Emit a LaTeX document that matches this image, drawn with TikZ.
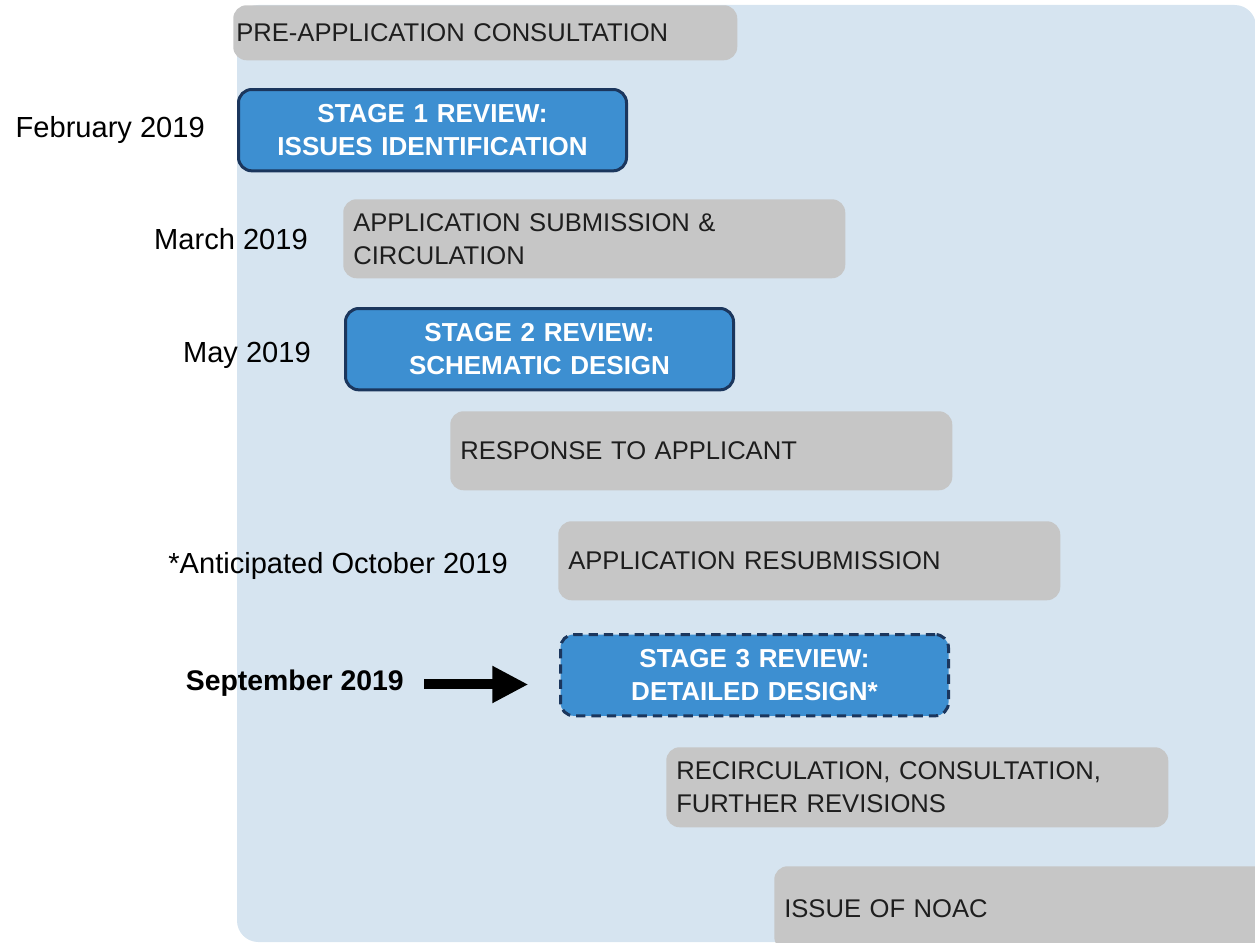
\documentclass[tikz,border=0pt]{standalone}
\usepackage{fontspec}
\setmainfont{Liberation Sans}
\usetikzlibrary{arrows.meta}

\definecolor{panelblue}{HTML}{D6E4F0}
\definecolor{phasegray}{HTML}{C6C6C6}
\definecolor{reviewblue}{HTML}{3D8FD1}
\definecolor{reviewedge}{HTML}{1B365D}
\definecolor{ink}{HTML}{1E1E1E}

\begin{document}
\begin{tikzpicture}[x=0.75pt,y=-0.75pt,
  phase/.style={fill=phasegray, rounded corners=10pt, anchor=north west,
    inner xsep=7.5pt, inner ysep=0pt, align=left, text=ink,
    font=\fontsize{19.2}{24.75}\selectfont},
  review/.style={fill=reviewblue, draw=reviewedge, line width=2.25pt,
    rounded corners=10pt, anchor=north west, inner xsep=7.5pt, inner ysep=0pt,
    align=center, text=white, text width=276pt, minimum height=61pt,
    font=\bfseries\fontsize{19.5}{24.75}\selectfont},
  when/.style={anchor=base east, inner sep=0pt, text=black,
    font=\fontsize{21.8}{24}\selectfont},
  bigarrow/.style={line width=7.5pt, -{Triangle[length=27pt,width=26pt]}}]

\clip (0,0) rectangle (1255,942);

% timeline panel
\fill[panelblue, rounded corners=16pt] (237,5) rectangle (1256,942);

% process phases
\node[phase, inner xsep=2.25pt, text width=373.5pt, minimum height=41.25pt]
  (pre) at (233,5) {PRE-APPLICATION CONSULTATION};
\node[review] (s1) at (237,88) {STAGE 1 REVIEW:\\ISSUES IDENTIFICATION};
\node[phase, text width=361.5pt, minimum height=59.25pt]
  (sub) at (343,199) {APPLICATION SUBMISSION \&\\CIRCULATION};
\node[review] (s2) at (344,307) {STAGE 2 REVIEW:\\SCHEMATIC DESIGN};
\node[phase, text width=361.5pt, minimum height=59.25pt]
  (resp) at (450,411) {RESPONSE TO APPLICANT};
\node[phase, text width=361.5pt, minimum height=59.25pt]
  (resub) at (558,521) {APPLICATION RESUBMISSION};
\node[review, dash pattern=on 7pt off 4.5pt] (s3) at (559,633)
  {STAGE 3 REVIEW:\\DETAILED DESIGN*};
\node[phase, text width=361.5pt, minimum height=60pt]
  (recirc) at (666,747) {RECIRCULATION, CONSULTATION,\\FURTHER REVISIONS};
\node[phase, text width=435pt, minimum height=63pt]
  (noac) at (774,866) {ISSUE OF NOAC};

% dates
\node[when] (feb) at (205,137) {February 2019};
\node[when] (mar) at (308,249) {March 2019};
\node[when] (may) at (311,362) {May 2019};
\node[when] (oct) at (508,573) {*Anticipated October 2019};
\node[when, font=\bfseries\fontsize{21.3}{24}\selectfont] (sep) at (404,690)
  {September 2019};

% pointer to the current stage
\draw[bigarrow, shorten <=15pt, shorten >=23pt]
  ([yshift=1.5pt]sep.mid east) -- ([yshift=1.5pt]sep.mid east -| s3.west);
\end{tikzpicture}
\end{document}
